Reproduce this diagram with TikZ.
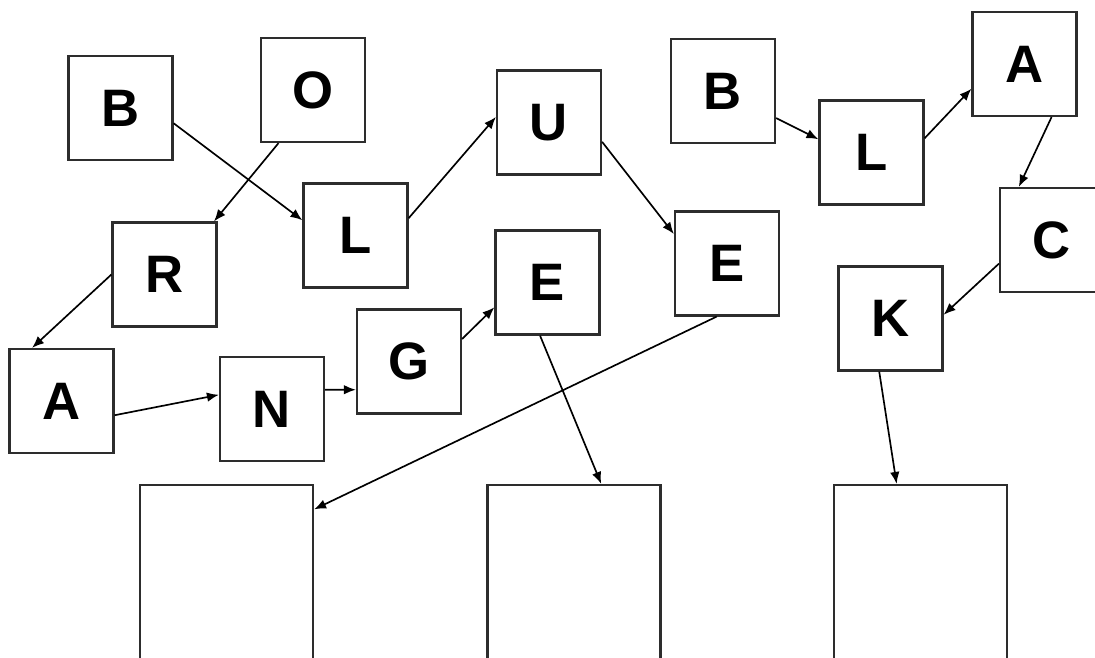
\documentclass[tikz,border=0pt]{standalone}
\usepackage{fontspec}
\setmainfont{Liberation Sans}
\usepackage{tikz}
\usetikzlibrary{arrows.meta}
\definecolor{BoxLine}{RGB}{45,45,45}
\definecolor{LetterText}{RGB}{0,0,0}

\begin{document}
\begin{tikzpicture}[
  x=0.02cm, y=-0.02cm,
  letterbox/.style={
    draw=BoxLine,
    line width=1.25pt,
    fill=white,
    minimum size=2.08cm,
    inner sep=0pt,
    font=\fontsize{30}{30}\selectfont\bfseries,
    text=LetterText
  },
  blankbox/.style={
    draw=BoxLine,
    line width=1.25pt,
    fill=white,
    minimum width=3.46cm,
    minimum height=3.52cm,
    inner sep=0pt
  },
  link/.style={
    line width=0.95pt,
    -{Latex[length=2.4mm,width=1.9mm]}
  }
]
\useasboundingbox (0,0) rectangle (1095,657);

% first word
\node[letterbox] (b1) at (120.5,108) {B};
\node[letterbox] (o) at (313,90) {O};
\node[letterbox] (l1) at (355.5,235.5) {L};
\node[letterbox] (r) at (164.5,274.5) {R};
\node[letterbox] (a1) at (61.5,401) {A};
\node[letterbox] (n) at (272,409) {N};
\node[letterbox] (g) at (409,361.5) {G};
\node[letterbox] (u) at (549,122.5) {U};
\node[letterbox] (e1) at (727,263.5) {E};
\node[letterbox] (e2) at (547.5,282.5) {E};

% second word
\node[letterbox] (b2) at (723,91) {B};
\node[letterbox] (l2) at (871.5,152.5) {L};
\node[letterbox] (a2) at (1024.5,64) {A};
\node[letterbox] (c) at (1052,240) {C};
\node[letterbox] (k) at (890.5,318.5) {K};

% empty boxes
\node[blankbox] (s1) at (226.5,573) {};
\node[blankbox] (s2) at (574,573) {};
\node[blankbox] (s3) at (920.5,573) {};

\draw[link] (b1.-16) -- (l1.164);
\draw[link] (o.237) -- (r.47);
\draw[link] (r.180) -- (a1.119);
\draw[link] (a1.-15) -- (n.165);
\draw[link] (n.20) -- (g.208);
\draw[link] (g.23) -- (e2.205);
\draw[link] (l1.18) -- (u.174);
\draw[link] (u.-20) -- (e1.151);
\draw[link] (e1.-101) -- (s1.36);
\draw[link] (e2.-98) -- (s2.73);

\draw[link] (b2.-27) -- (l2.166);
\draw[link] (l2.15) -- (a2.205);
\draw[link] (a2.-63) -- (c.122);
\draw[link] (c.204) -- (k.4);
\draw[link] (k.-102) -- (s3.105);
\end{tikzpicture}
\end{document}
